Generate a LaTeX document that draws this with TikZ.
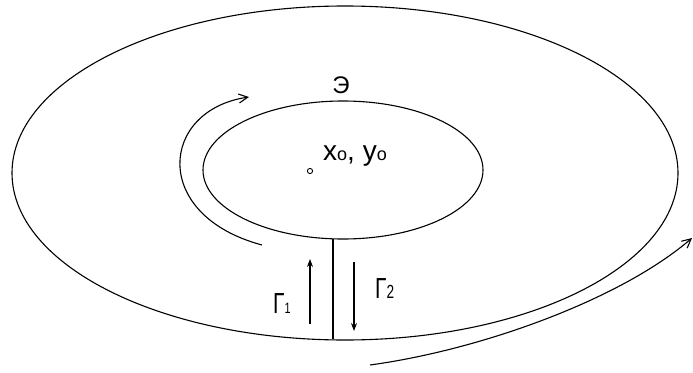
\documentclass[tikz,border=0pt]{standalone}
\usepackage{fontspec}
\setmainfont{Liberation Sans}
\usetikzlibrary{arrows.meta}
\begin{document}
\begin{tikzpicture}[x=1pt,y=-1pt,
  curve/.style={line width=1.1pt},
  bigarrow/.style={curve,-{Straight Barb[length=9pt,width=9pt]}},
  garrow/.style={line width=1.1pt,-{Stealth[length=8pt,width=6pt]}},
  lab/.style={inner sep=0pt,anchor=base west},
  gam/.style={lab,xscale=0.72,transform shape,font=\fontsize{29}{29}\selectfont}]
\useasboundingbox (0,0) rectangle (693,372);
\fill[white] (0,0) rectangle (693,372);
% outer and inner contours
\draw[curve] (345,173) ellipse [x radius=333, y radius=167];
\draw[curve] (343,170) ellipse [x radius=140, y radius=69];
% cut
\coordinate (cutTop) at (333,239);
\coordinate (cutBot) at (333,339);
\draw[curve] (cutTop) -- (cutBot);
% Gamma arrows
\coordinate (g1s) at (310,324);
\coordinate (g1e) at (310,259);
\coordinate (g2s) at (354,262);
\coordinate (g2e) at (354,331);
\draw[garrow] (g1s) -- (g1e);
\draw[garrow] (g2s) -- (g2e);
% curved arrows
\coordinate (la) at (262,245);
\coordinate (lb) at (249,97);
\draw[bigarrow] (la) .. controls (150,215) and (160,110) .. (lb);
\coordinate (ra) at (370,365);
\coordinate (rb) at (692,238);
\draw[bigarrow] (ra) .. controls (480,350) and (620,300) .. (rb);
% centre point
\draw[line width=0.9pt] (310,171) circle (2.6);
% labels
\node[inner sep=0pt,font=\fontsize{24}{24}\selectfont] (E) at (341,85) {Э};
\node[lab,font=\fontsize{28}{28}\selectfont] (xy) at (323,160) {x{\fontsize{18}{18}\selectfont o}, y{\fontsize{18}{18}\selectfont o}};
\node[gam] (G1) at (273,313) {Γ{\fontsize{15}{15}\selectfont 1}};
\node[gam] (G2) at (375,298) {Γ{\fontsize{19}{19}\selectfont 2}};
\end{tikzpicture}
\end{document}
